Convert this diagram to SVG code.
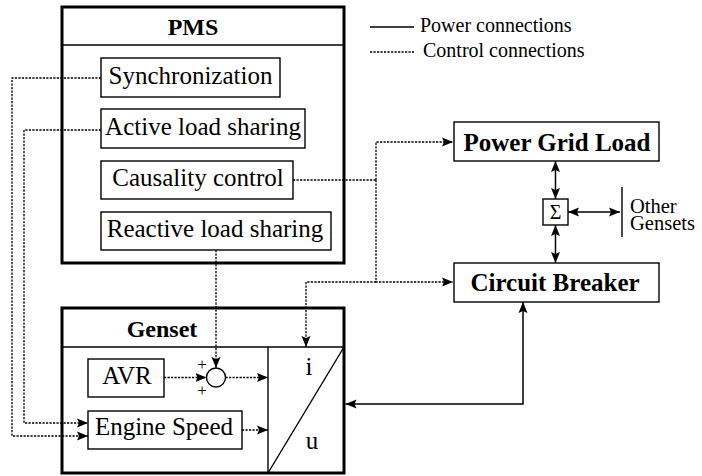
<svg xmlns="http://www.w3.org/2000/svg" width="702" height="476" viewBox="0 0 702 476" font-family="'Liberation Serif','Times New Roman',serif">
<style>
text{font-family:"Liberation Serif","Times New Roman",serif;fill:#000}
.t{font-size:25px;text-anchor:middle}
.b{font-size:25px;font-weight:bold;text-anchor:middle}
.h{font-size:24px;font-weight:bold;text-anchor:middle}
.lg{font-size:20px}
.pl{font-size:17px;text-anchor:middle}
.og{font-size:20.5px}
.outer{fill:#fff;stroke:#000;stroke-width:3}
.box{fill:#fff;stroke:#000;stroke-width:1.4}
.thin{fill:none;stroke:#000;stroke-width:1.4}
.pw{fill:none;stroke:#000;stroke-width:1.5}
.ct{fill:none;stroke:#000;stroke-width:1.3;stroke-dasharray:2.2 1.3}
</style>
<defs>
<marker id="ah" markerUnits="userSpaceOnUse" markerWidth="12" markerHeight="10" refX="11" refY="5" orient="auto-start-reverse" viewBox="0 0 12 10">
<path d="M0,0.5 L11,5 L0,9.5 L2,5 z" fill="#000"/>
</marker>
</defs>

<g id="legend">
<line x1="370" y1="27" x2="414" y2="27" class="pw"/>
<text x="420" y="32" class="lg">Power connections</text>
<line x1="370" y1="52" x2="414" y2="52" class="ct"/>
<text x="423" y="57" class="lg">Control connections</text>
</g>

<g id="pms">
<rect x="62" y="7" width="282" height="256" class="outer"/>
<line x1="62" y1="45" x2="344" y2="45" class="thin"/>
<text x="193" y="35" class="h">PMS</text>
</g>
<g id="sync">
<rect x="101" y="58" width="179" height="39" class="box"/>
<text x="190.5" y="84" class="t">Synchronization</text>
</g>
<g id="active">
<rect x="101" y="109" width="204" height="39" class="box"/>
<text x="203" y="135" class="t">Active load sharing</text>
</g>
<g id="causality">
<rect x="101" y="161" width="192" height="38" class="box"/>
<text x="198" y="186" class="t">Causality control</text>
</g>
<g id="reactive">
<rect x="101" y="212" width="230" height="38" class="box"/>
<text x="215" y="237" class="t">Reactive load sharing</text>
</g>

<g id="genset">
<rect x="62" y="308" width="282" height="165" class="outer"/>
<line x1="62" y1="347" x2="344" y2="347" class="thin"/>
<text x="162" y="337" class="h">Genset</text>
<line x1="268" y1="347" x2="268" y2="473" class="thin"/>
<line x1="268" y1="473" x2="344" y2="347" class="thin"/>
<text x="309" y="375" class="t">i</text>
<text x="312" y="449" class="t">u</text>
</g>
<g id="avr">
<rect x="88" y="359" width="76" height="38" class="box"/>
<text x="127" y="384" class="t">AVR</text>
</g>
<g id="engine">
<rect x="88" y="411" width="154" height="38" class="box"/>
<text x="164" y="435" class="t">Engine Speed</text>
</g>
<g id="sum">
<circle cx="216" cy="377.5" r="9.5" class="box"/>
<text x="202" y="370" class="pl">+</text>
<text x="202" y="396" class="pl">+</text>
</g>

<g id="pgl">
<rect x="454" y="122" width="205" height="39" class="box"/>
<text x="557" y="151" class="b">Power Grid Load</text>
</g>
<g id="cb">
<rect x="454" y="263" width="205" height="39" class="box"/>
<text x="555" y="291" class="b">Circuit Breaker</text>
</g>
<g id="sigma">
<rect x="543" y="199" width="25" height="26" class="box"/>
<text x="555.5" y="219" style="font-size:20px;text-anchor:middle">Σ</text>
</g>
<g id="others">
<line x1="622" y1="187" x2="622" y2="237" class="thin"/>
<text x="630" y="213" class="og">Other</text>
<text x="630" y="230" class="og">Gensets</text>
</g>

<g id="connectors">
<polyline points="101,78 12,78 12,436 88,436" class="ct" marker-end="url(#ah)"/>
<polyline points="101,130 24,130 24,423 88,423" class="ct" marker-end="url(#ah)"/>
<polyline points="293,180 376,180" class="ct"/>
<polyline points="376,180 376,142 453,142" class="ct" marker-end="url(#ah)"/>
<polyline points="376,180 376,282 453,282" class="ct" marker-end="url(#ah)"/>
<polyline points="376,282 306,282 306,347" class="ct" marker-end="url(#ah)"/>
<line x1="216" y1="250" x2="216" y2="368" class="ct" marker-end="url(#ah)"/>
<line x1="164" y1="377.5" x2="206.5" y2="377.5" class="ct" marker-end="url(#ah)"/>
<line x1="225.5" y1="377.5" x2="268" y2="377.5" class="ct" marker-end="url(#ah)"/>
<line x1="242" y1="430" x2="268" y2="430" class="ct" marker-end="url(#ah)"/>
<polyline points="523,302 523,404 345.5,404" class="pw" marker-start="url(#ah)" marker-end="url(#ah)"/>
<line x1="555.5" y1="161" x2="555.5" y2="199" class="pw" marker-start="url(#ah)" marker-end="url(#ah)"/>
<line x1="555.5" y1="225" x2="555.5" y2="263" class="pw" marker-start="url(#ah)" marker-end="url(#ah)"/>
<line x1="568" y1="212" x2="620" y2="212" class="pw" marker-start="url(#ah)" marker-end="url(#ah)"/>
</g>
</svg>
